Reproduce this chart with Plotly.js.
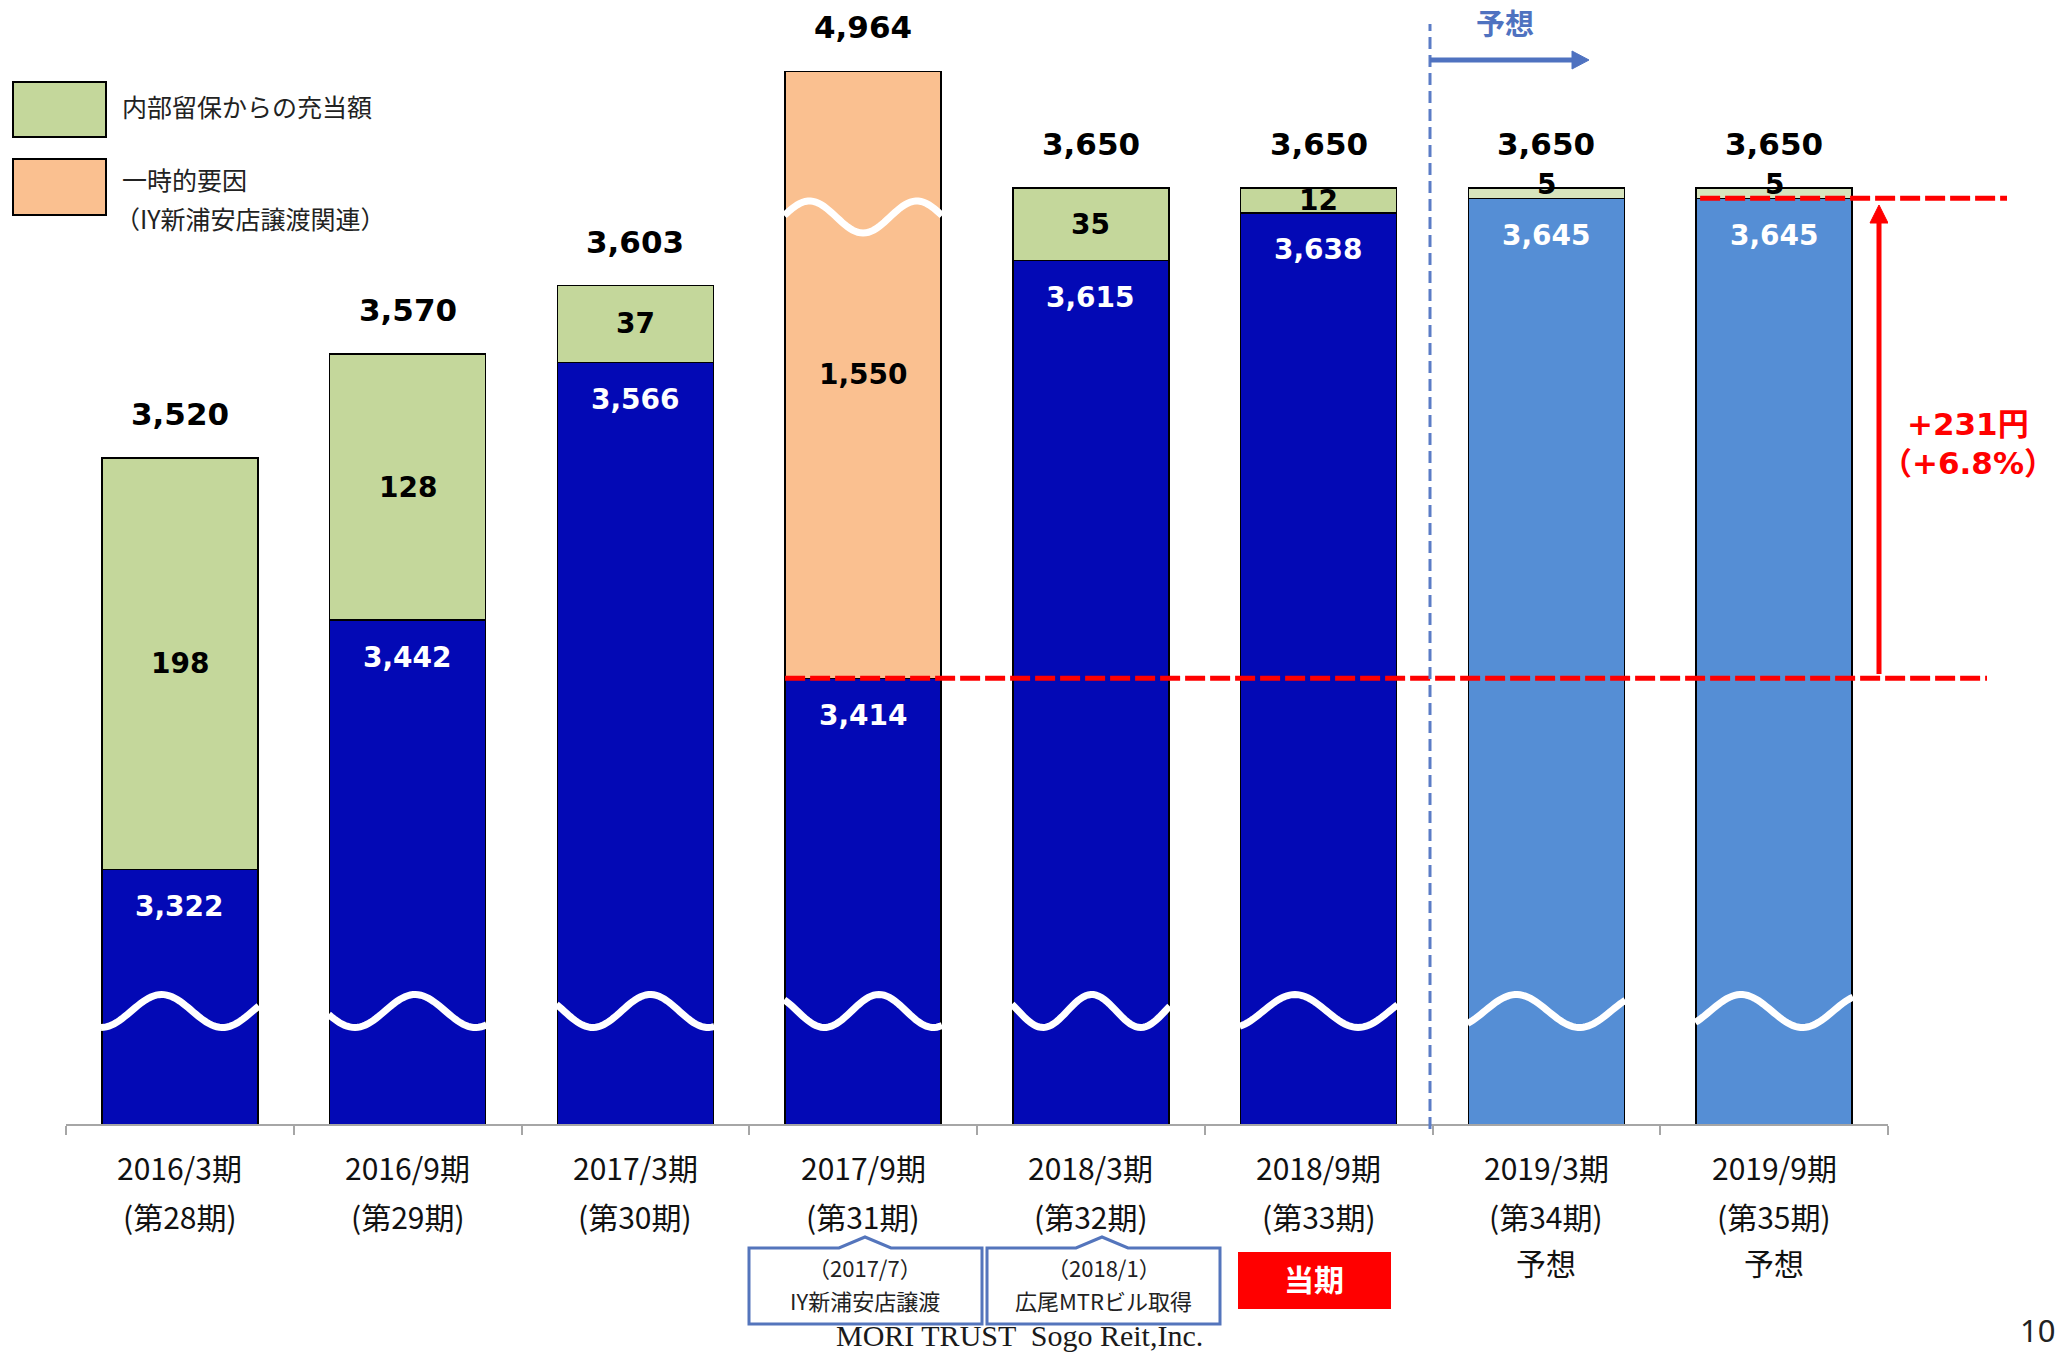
<!DOCTYPE html>
<html><head><meta charset="utf-8">
<script src="https://cdn.plot.ly/plotly-3.0.1.min.js"></script>
<style>html,body{margin:0;padding:0;background:#fff;}#chart{width:2064px;height:1356px;}</style>
</head><body><div id="chart"></div>
<script>
// ---------- data ----------
const periods  = ['2016/3期','2016/9期','2017/3期','2017/9期','2018/3期','2018/9期','2019/3期','2019/9期'];
const terms    = ['(第28期)','(第29期)','(第30期)','(第31期)','(第32期)','(第33期)','(第34期)','(第35期)'];
const notes    = ['','','','','','','予想','予想'];
const baseDist = [3322, 3442, 3566, 3414, 3615, 3638, 3645, 3645];   // 分配金（内部留保取崩し除く）
const oneTime  = [0, 0, 0, 1550, 0, 0, 0, 0];                        // 一時的要因
const retained = [198, 128, 37, 0, 35, 12, 5, 5];                    // 内部留保からの充当額
const totals   = [3520, 3570, 3603, 4964, 3650, 3650, 3650, 3650];
const legendNames = ['内部留保からの充当額', '一時的要因', '（IY新浦安店譲渡関連）'];
const increaseText = ['+231円', '（+6.8%）'];
const callouts = [['（2017/7）','IY新浦安店譲渡'], ['（2018/1）','広尾MTRビル取得']];

// ---------- geometry ----------
const W = 2064, H = 1356, ML = 66, MR = 176, MT = 40, MB = 232;
const PW = W - ML - MR, PH = H - MT - MB;           // 1822 x 1084
const XU = PW / 8;                                  // px per category
const YPX = 2.078;                                  // px per value unit (broken axis)
const Y0 = 3199.5, Y1 = Y0 + PH / YPX;
const BREAK_TOP = 3706;                             // where the tall bar is cut
const BW = 0.685;
const BOTTOM_PY = H - MB;                           // 1124
const px2x = px => (px - ML) / XU - 0.5;
const py2y = py => Y0 + (BOTTOM_PY - py) / YPX;
const pX = px => (px - ML) / PW;
const pY = py => (BOTTOM_PY - py) / PH;

const idx = periods.map((_, i) => i);
const isFc = i => notes[i] !== '';
const cBlue = idx.map(i => isFc(i) ? '#558ED5' : '#0309B5');
const cGreen = idx.map(i => isFc(i) ? '#D7E4BD' : '#C4D79B');
const cOrange = '#FAC090';

const lineSpec = {color: '#000', width: 1.5};
const traces = [
  {type: 'bar', x: idx, y: baseDist, width: BW, marker: {color: cBlue, line: lineSpec}, hoverinfo: 'skip', showlegend: false},
  {type: 'bar', x: idx, y: oneTime.map((v, i) => v ? Math.min(v, BREAK_TOP - baseDist[i]) : null), width: BW,
   marker: {color: cOrange, line: lineSpec}, hoverinfo: 'skip', showlegend: false},
  {type: 'bar', x: idx, y: retained.map(v => v || null), width: BW, marker: {color: cGreen, line: lineSpec}, hoverinfo: 'skip', showlegend: false}
];

const numFmt = v => v.toLocaleString('en-US');
const bold = (size, color, family) => ({family: family || 'DejaVu Sans, Noto Sans CJK JP', size: size, color: color, weight: 'bold'});
const ann = [];
const A = o => ann.push(Object.assign({showarrow: false, xanchor: 'center', yanchor: 'middle'}, o));
const AP = (px, py, text, font, extra) => A(Object.assign({x: pX(px), y: pY(py), xref: 'paper', yref: 'paper', text: text, font: font}, extra || {}));

idx.forEach(i => {
  const top = Math.min(totals[i], BREAK_TOP);
  A({x: i, y: top, xref: 'x', yref: 'y', text: numFmt(totals[i]), yshift: 44, font: bold(31, '#000')});
  A({x: i, y: baseDist[i], xref: 'x', yref: 'y', text: numFmt(baseDist[i]), yshift: -37, font: bold(28, '#fff')});
  if (retained[i]) {
    A({x: i, y: baseDist[i] + retained[i] / 2, xref: 'x', yref: 'y', text: numFmt(retained[i]),
       yshift: retained[i] < 10 ? 9 : 0, font: bold(28, '#000')});
  }
  if (oneTime[i]) {
    A({x: i, y: (baseDist[i] + top) / 2, xref: 'x', yref: 'y', text: numFmt(oneTime[i]), font: bold(28, '#000')});
  }
  // category labels
  const lf = {family: 'Noto Sans CJK JP', size: 30, color: '#111'};
  A({x: i, y: pY(1167), xref: 'x', yref: 'paper', text: periods[i], font: lf});
  A({x: i, y: pY(1216), xref: 'x', yref: 'paper', text: terms[i], font: lf});
  if (notes[i]) A({x: i, y: pY(1262), xref: 'x', yref: 'paper', text: notes[i], font: lf});
});

// legend texts
const legFont = {family: 'Noto Sans CJK JP', size: 25, color: '#222'};
AP(120, 106, legendNames[0], legFont, {xanchor: 'left'});
AP(120, 179, legendNames[1], legFont, {xanchor: 'left'});
AP(113, 218, legendNames[2], legFont, {xanchor: 'left'});

// forecast header
AP(1505, 22, '予想', bold(29, '#4F72C0', 'Noto Sans CJK JP'));
// increase text
AP(1968, 424, increaseText[0], bold(31, '#FF0000'));
AP(1968, 463, increaseText[1], bold(31, '#FF0000'));
// callout texts
const coX = [865, 1103.5];
const coFont = {family: 'Noto Sans CJK JP', size: 22, color: '#222'};
callouts.forEach((c, k) => {
  AP(coX[k], 1267, c[0], coFont);
  AP(coX[k], 1300, c[1], coFont);
});
AP(1314, 1278, '当期', bold(30, '#fff', 'Noto Sans CJK JP'));
AP(1020, 1335, 'MORI TRUST  Sogo Reit,Inc.', {family: 'Liberation Serif', size: 30, color: '#1a1a1a'});
AP(2037, 1330, '10', {family: 'Noto Sans', size: 31, color: '#222'});

// ---------- shapes ----------
const shapes = [];
// wave breaks (decoration): [trough position, period] as fraction of bar width
const waveBottom = [[0.0,0.77],[0.165,0.765],[0.23,0.73],[0.255,0.69],[0.196,0.62],[-0.05,0.8],[-0.09,0.8],[-0.1,0.78]];
function wavePath(i, yc, amp, tT, P) {
  const pts = [];
  const hw = BW / 2 + 0.004;
  for (let k = 0; k <= 60; k++) {
    const t = k / 60;
    const x = i - hw + 2 * hw * t;
    const y = yc - amp * Math.cos(2 * Math.PI * (t - tT) / P);
    pts.push((k ? 'L' : 'M') + x.toFixed(4) + ',' + y.toFixed(3));
  }
  return pts.join(' ');
}
const ycBottom = py2y(1011), ampU = 16.5 / YPX;
idx.forEach(i => {
  shapes.push({type: 'path', xref: 'x', yref: 'y', path: wavePath(i, ycBottom, ampU, waveBottom[i][0], waveBottom[i][1]),
               line: {color: '#fff', width: 7}});
  if (oneTime[i] && baseDist[i] + oneTime[i] > BREAK_TOP) {
    shapes.push({type: 'path', xref: 'x', yref: 'y', path: wavePath(i, py2y(217), 16 / YPX, 0.5, 0.68),
                 line: {color: '#fff', width: 7}});
  }
});
// red dashed reference lines (x in paper so they may run past the last category)
const i17 = 3, iLast = 7;
const barLeftPx = i => ML + (i + 0.5 - BW / 2) * XU;
shapes.push({type: 'line', xref: 'paper', yref: 'y', x0: pX(barLeftPx(i17)), x1: pX(1987), y0: baseDist[i17], y1: baseDist[i17],
             line: {color: '#FF0000', width: 5, dash: '20px,5px'}});
shapes.push({type: 'line', xref: 'paper', yref: 'y', x0: pX(barLeftPx(iLast) + 4), x1: pX(2007), y0: baseDist[iLast], y1: baseDist[iLast],
             line: {color: '#FF0000', width: 5, dash: '20px,5px'}});
// red arrow
const ax = px2x(1879), tipY = py2y(205), headY = tipY - 18 / YPX, hwArrow = 9 / XU;
shapes.push({type: 'line', xref: 'x', yref: 'y', x0: ax, x1: ax, y0: baseDist[i17] + 2, y1: headY + 1, line: {color: '#FF0000', width: 5}});
shapes.push({type: 'path', xref: 'x', yref: 'y', path: `M${ax - hwArrow},${headY} L${ax + hwArrow},${headY} L${ax},${tipY} Z`,
             fillcolor: '#FF0000', line: {color: '#FF0000', width: 1}});
// forecast divider and arrow
shapes.push({type: 'line', xref: 'x', yref: 'paper', x0: px2x(1430), x1: px2x(1430), y0: pY(1129), y1: pY(24),
             line: {color: '#5B7CC6', width: 3, dash: '12px,6px'}});
shapes.push({type: 'line', xref: 'paper', yref: 'paper', x0: pX(1430), x1: pX(1574), y0: pY(60), y1: pY(60), line: {color: '#4F72C0', width: 5}});
shapes.push({type: 'path', xref: 'paper', yref: 'paper', path: `M${pX(1572)},${pY(51)} L${pX(1589)},${pY(60)} L${pX(1572)},${pY(69)} Z`,
             fillcolor: '#4F72C0', line: {color: '#4F72C0', width: 1}});
// legend boxes
shapes.push({type: 'rect', xref: 'paper', yref: 'paper', x0: pX(13), x1: pX(106), y0: pY(137), y1: pY(82), fillcolor: '#C4D79B', line: {color: '#000', width: 2}});
shapes.push({type: 'rect', xref: 'paper', yref: 'paper', x0: pX(13), x1: pX(106), y0: pY(215), y1: pY(159), fillcolor: cOrange, line: {color: '#000', width: 2}});
// callout boxes
const coBox = [[749, 982, 865], [987, 1220, 1102]];
coBox.forEach(b => {
  const [l, r, c] = b, t = 1248, bt = 1324, pk = 1237;
  const p = `M${pX(l)},${pY(bt)} L${pX(l)},${pY(t)} L${pX(c - 26)},${pY(t)} L${pX(c)},${pY(pk)} L${pX(c + 26)},${pY(t)} L${pX(r)},${pY(t)} L${pX(r)},${pY(bt)} Z`;
  shapes.push({type: 'path', xref: 'paper', yref: 'paper', path: p, fillcolor: '#fff', line: {color: '#5475BC', width: 3}});
});
// current period badge
shapes.push({type: 'rect', xref: 'paper', yref: 'paper', x0: pX(1238), x1: pX(1391), y0: pY(1309), y1: pY(1252), fillcolor: '#FF0000', line: {width: 0}});

const layout = {
  width: W, height: H,
  margin: {l: ML, r: MR, t: MT, b: MB, pad: 0},
  paper_bgcolor: '#fff', plot_bgcolor: 'rgba(0,0,0,0)',
  barmode: 'stack', showlegend: false,
  xaxis: {range: [-0.5, 7.5], tickmode: 'array', tickvals: [-0.5,0.5,1.5,2.5,3.5,4.5,5.5,6.5,7.5], ticktext: ['','','','','','','','',''],
          ticks: 'outside', ticklen: 9, tickwidth: 2, tickcolor: '#A6A6A6', showline: true, linecolor: '#A6A6A6', linewidth: 2,
          showgrid: false, zeroline: false, fixedrange: true},
  yaxis: {range: [Y0, Y1], showticklabels: false, showgrid: false, zeroline: false, showline: false, ticks: '', fixedrange: true},
  annotations: ann, shapes: shapes,
  font: {family: 'Noto Sans CJK JP'}
};
Plotly.newPlot('chart', traces, layout, {staticPlot: true, displayModeBar: false});
</script></body></html>
